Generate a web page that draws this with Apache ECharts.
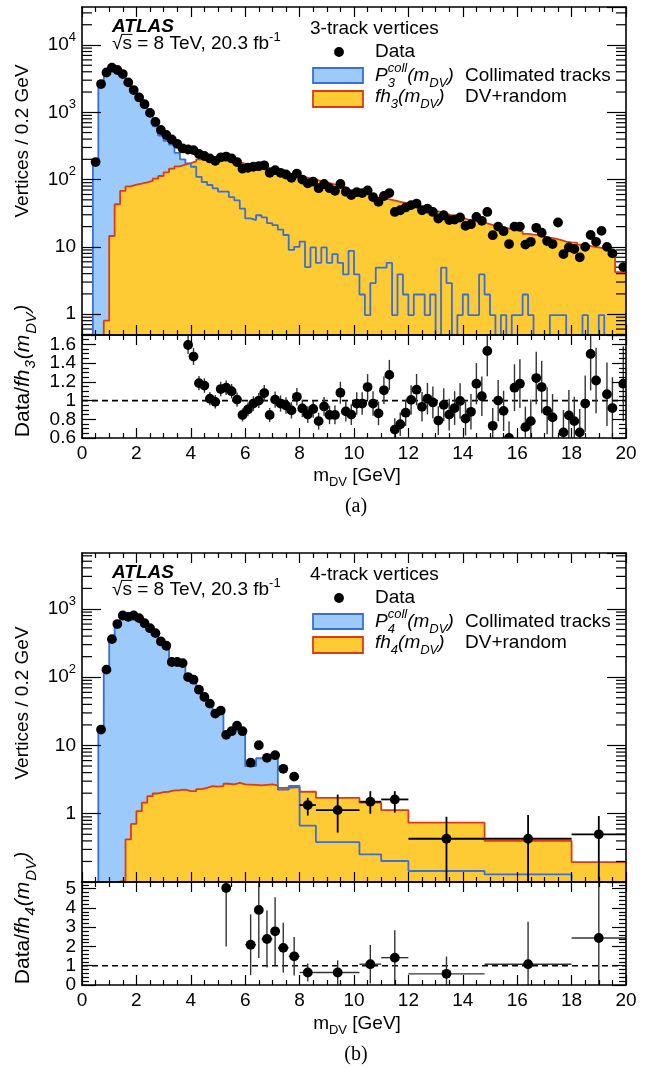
<!DOCTYPE html>
<html><head><meta charset="utf-8">
<script src="https://cdn.jsdelivr.net/npm/echarts@6/dist/echarts.min.js"></script>
<style>html,body{margin:0;padding:0;background:#fff}#c{width:652px;height:1068px}</style>
</head><body><div id="c"></div>
<script>
const FONT = '"Liberation Sans", Arial, Helvetica, sans-serif';
const SERIF = '"Liberation Serif", "Times New Roman", serif';
const BLUE_FILL = '#9ccafa', BLUE_LINE = '#3a6fd6', YELLOW = '#fecb35', RED_LINE = '#dc3c14';

// ---------- (a) 3-track vertices : 100 bins of 0.2 GeV ----------
const binWidth3 = 0.2;
const p3coll = [0,0,175,2800,3850,4450,4200,3650,2700,2050,
  1580,1230,890,620,450,375,330,250,200,174,
  155,110,92,83,74,66,66,55,49,37,
  26.5,25,29.5,27.5,22.5,21,18,15,9,10,
  12,5,9.8,5.8,9.8,5.8,7.8,5.8,3.9,8.7,
  3.9,1.96,0.97,2.9,4.9,4.9,5.8,0.97,3.9,1.96,
  0.97,1.96,1.96,0.97,1.96,0,4.9,2.9,0,0.97,
  1.96,0.97,0.97,3.9,1.96,0.97,0,0.97,0,0.97,
  0.97,1.96,0.97,0,0,0,0.97,0.97,0.97,0,
  0,0,0.97,0,0,0.97,0,0,0,0];
const fh3 = [0,0,0,0,0.8,14.5,43,68,79,84,
  87,91,96,103,113,128,145,157,167,176,
  186,200,194,202,194,191,194,187,181,172,
  166,160,157,152,148,137,131,125,119,115,
  109,104,100,95,91,87,82,79,75,70,
  67,64,61,58,54,52,50,48,46,44,
  41.5,39.5,37.5,36,34,33,31,29.5,28,27,
  25.5,24.5,23.5,23,21.8,20.6,20,19.2,18.3,17.6,
  16.8,15.6,15.2,15,14.2,13.7,13.3,12.7,12,11.7,
  11.6,10.8,10.4,10.1,9.8,9.5,9.3,8.8,4.2,4.1];
const data3 = [null,null,182,2630,3900,4600,4250,3700,2780,2140,
  1660,1320,980,720,545,460,395,340,290,280,
  274,240,224,206,190,214,220,206,182,145,
  150,155,158,163,126,138,126,119,106,123,
  100,88,93,74.5,86,74.5,68,86,66,59,
  65,63,69,55,46.6,57,63,33,35,38.5,
  41.7,44,35,37,33,26.4,29.5,25,25.5,27.3,
  20.5,21.7,27.9,24.4,33,14.9,20,17.1,11,20,
  20,10.8,11.9,19.2,16.2,12.2,11,23,7.8,9.8,
  9.3,7,10,15,11.9,17.3,10,8,null,5];
const ratio3X = [3.9,4.1,4.3,4.5,4.7,4.9,5.1,5.3,5.5,5.7,5.9,6.1,6.3,6.5,6.7,6.9,7.1,7.3,7.5,7.7,
  7.9,8.1,8.3,8.5,8.7,8.9,9.1,9.3,9.5,9.7,9.9,10.1,10.3,10.5,10.7,10.9,11.1,11.3,11.5,11.7,
  11.9,12.1,12.3,12.5,12.7,12.9,13.1,13.3,13.5,13.7,13.9,14.1,14.3,14.5,14.7,14.9,15.1,15.3,15.5,15.7,
  15.9,16.1,16.3,16.5,16.7,16.9,17.1,17.3,17.7,17.9,18.1,18.3,18.5,18.7,18.9,19.3,19.5,19.9];
const ratio3Y = [1.593,1.47,1.186,1.16,1.02,0.986,1.123,1.137,1.10,1.01,0.846,0.905,0.968,1.0,1.08,0.846,1.01,0.968,0.947,0.895,
  1.04,0.916,0.85,0.91,0.78,0.937,0.846,0.846,1.084,0.884,0.85,0.968,0.968,1.144,0.968,0.863,1.109,1.274,0.69,0.747,
  0.87,1.007,1.116,0.933,1.02,0.98,0.786,0.954,0.85,0.92,0.996,0.807,0.88,1.18,1.046,1.53,0.73,1.0,0.89,0.6,
  1.137,1.18,0.716,0.78,1.24,1.144,0.89,0.82,0.66,0.842,0.78,0.66,0.968,1.498,1.214,1.067,0.92,1.18];
const ratio3Err = [0.095,0.09,0.077,0.078,0.071,0.072,0.077,0.077,0.077,0.075,0.07,0.074,0.078,0.08,0.085,0.075,0.086,0.086,0.087,0.087,
  0.094,0.092,0.09,0.094,0.09,0.1,0.098,0.1,0.117,0.109,0.11,0.12,0.12,0.138,0.13,0.126,0.147,0.16,0.12,0.126,
  0.14,0.156,0.168,0.158,0.168,0.17,0.153,0.176,0.17,0.18,0.19,0.18,0.19,0.22,0.21,0.27,0.19,0.22,0.215,0.18,
  0.25,0.26,0.22,0.23,0.28,0.28,0.25,0.25,0.24,0.27,0.26,0.25,0.3,0.39,0.35,0.34,0.33,0.4];

// ---------- (b) 4-track vertices : variable bins ----------
const edges4 = [0,0.2,0.4,0.6,0.8,1.0,1.2,1.4,1.6,1.8,2.0,2.2,2.4,2.6,2.8,3.0,3.2,3.4,3.6,3.8,
  4.0,4.2,4.4,4.6,4.8,5.0,5.2,5.4,5.6,5.8,6.0,6.4,6.6,7.0,7.2,7.6,8.0,8.6,10.2,11.0,12.0,14.8,18.0,20.0];
const p4coll = [0,0,0,16,120,340,580,770,760,780,
  720,610,520,440,330,280,172,172,165,98,
  90,64,50,41,29,32,14.5,16,19,16.5,
  5.0,6.5,6.9,7.1,2.25,2.55,0.67,0.385,0.254,0.203,
  0.145,0.129,0];
const fh4 = [0,0,0,0,0,0,0,0.102,0.42,0.71,
  1.09,1.45,1.81,1.98,2.07,2.1,2.2,2.21,2.26,2.14,
  2.14,2.3,2.4,2.54,2.5,2.54,2.75,2.7,2.84,2.7,
  2.65,2.6,2.7,2.6,2.4,2.45,2.1,1.71,1.45,1.13,
  0.74,0.40,0.196];
const data4 = [null,null,null,17.1,129,361,600,802,767,802,
  733,619,523,442,334,289,167,167,161,100.6,
  92,65.7,51.4,41,29.3,32.4,14.3,16.2,19.5,16.2,
  5.6,10.1,6.6,7.2,4.55,3.5,1.34,1.13,1.50,1.62,
  0.43,0.43,0.50];
const data4ErrBins = [36,37,38,39,40,41,42];
const data4Lo = [0.94,0.53,1.0,1.04,0,0,0];
const data4Hi = [1.71,1.91,2.14,2.14,0.90,0.96,0.93];
const ratio4X = [5.3,6.2,6.5,6.8,7.1,7.4,7.8,8.3,9.4,10.6,11.5,13.4,16.4,19.0];
const ratio4Y = [5.04,2.09,3.9,2.39,2.79,1.93,1.49,0.65,0.65,1.08,1.42,0.58,1.08,2.44];
const ratio4Err = [3.04,1.58,2.5,1.48,1.77,1.3,1.0,0.47,0.63,1.0,1.43,0.9,2.2,2.9];

// ---------- helpers ----------
const TINY = 1e-4;
const edges3 = Array.from({length: p3coll.length + 1}, (_, i) => +(i * binWidth3).toFixed(1));
const centers = e => e.slice(0, -1).map((v, i) => (v + e[i + 1]) / 2);
const binOf = (e, x) => { for (let i = 0; i < e.length - 1; i++) if (x >= e[i] && x < e[i + 1]) return i; return e.length - 2; };

function histData(edges, vals) {
  const pts = [[edges[0], TINY]];
  vals.forEach((v, i) => pts.push([edges[i], v > 0 ? v : TINY]));
  const last = vals[vals.length - 1];
  pts.push([edges[edges.length - 1], last > 0 ? last : TINY]);
  return pts;
}
function areaSeries(xi, yi, data, color, z) {
  return {type: 'line', xAxisIndex: xi, yAxisIndex: yi, data, step: 'end', symbol: 'none',
    lineStyle: {width: 0, opacity: 0}, areaStyle: {color, opacity: 1, origin: 'start'}, z, silent: true, clip: true};
}
function outlineSeries(xi, yi, data, color, z) {
  return {type: 'line', xAxisIndex: xi, yAxisIndex: yi, data, step: 'end', symbol: 'none',
    lineStyle: {width: 1.8, color}, z, silent: true, clip: true};
}
function dotSeries(xi, yi, pts) {
  return {type: 'custom', xAxisIndex: xi, yAxisIndex: yi, data: pts, clip: true, z: 8, silent: true,
    renderItem: (p, api) => {
      const c = api.coord([api.value(0), api.value(1)]);
      return {type: 'circle', shape: {cx: c[0], cy: c[1], r: 4.9}, style: {fill: '#000'}};
    }};
}
// data rows: [x, ylo, yhi, xlo, xhi, y]
function errSeries(xi, yi, rows, color, w) {
  return {type: 'custom', xAxisIndex: xi, yAxisIndex: yi, data: rows, clip: true, z: 7, silent: true,
    renderItem: (p, api) => {
      const x = api.value(0), y = api.value(5);
      const a = api.coord([x, api.value(1)]), b = api.coord([x, api.value(2)]);
      const ch = [{type: 'line', shape: {x1: a[0], y1: a[1], x2: b[0], y2: b[1]}, style: {stroke: color, lineWidth: w}}];
      const l = api.coord([api.value(3), y]), r = api.coord([api.value(4), y]);
      ch.push({type: 'line', shape: {x1: l[0], y1: l[1], x2: r[0], y2: r[1]}, style: {stroke: color, lineWidth: w}});
      return {type: 'group', children: ch};
    }};
}
function minorLogTicks(xi, yi, lo, hi, len) {
  const vals = [];
  for (let e = -2; e <= 5; e++) for (let k = 2; k <= 9; k++) { const v = k * Math.pow(10, e); if (v > lo && v < hi) vals.push([10, v]); }
  return {type: 'custom', xAxisIndex: xi, yAxisIndex: yi, data: vals, clip: false, z: 11, silent: true,
    renderItem: (p, api) => {
      const v = api.value(1);
      const a = api.coord([0, v]), b = api.coord([20, v]);
      return {type: 'group', children: [
        {type: 'line', shape: {x1: a[0], y1: a[1], x2: a[0] + len, y2: a[1]}, style: {stroke: '#000', lineWidth: 1.2}},
        {type: 'line', shape: {x1: b[0] - len, y1: b[1], x2: b[0], y2: b[1]}, style: {stroke: '#000', lineWidth: 1.2}}]};
    }};
}
function refLine(xi, yi) {
  return {type: 'line', xAxisIndex: xi, yAxisIndex: yi, data: [[0, 1], [20, 1]], symbol: 'none', silent: true, z: 5,
    lineStyle: {color: '#000', width: 1.7, type: [6, 4]}};
}

const axisLine = {show: true, onZero: false, lineStyle: {color: '#000', width: 1.6}};
function xAx(gi, pos, labels) {
  return {type: 'value', gridIndex: gi, position: pos, min: 0, max: 20, interval: 2, z: 10,
    axisLine, splitLine: {show: false},
    axisTick: {show: true, inside: true, length: 10, lineStyle: {color: '#000', width: 1.2}},
    minorTick: {show: true, splitNumber: 4, length: 5, lineStyle: {color: '#000', width: 1.2}},
    axisLabel: {show: labels, fontSize: 19, fontFamily: FONT, color: '#000', margin: 6, showMinLabel: true, showMaxLabel: true}};
}
const logFmt = v => {
  const l = Math.log10(v), e = Math.round(l);
  if (Math.abs(l - e) > 1e-6 || e < 0) return '';
  if (e === 0) return '{b|1}';
  if (e === 1) return '{b|10}';
  return '{b|10}{s|' + e + '}';
};
function yLog(gi, pos, min, max, labels) {
  return {type: 'log', logBase: 10, gridIndex: gi, position: pos, min, max, z: 10,
    axisLine, splitLine: {show: false}, minorTick: {show: false},
    axisTick: {show: true, inside: true, length: 19, lineStyle: {color: '#000', width: 1.2}},
    axisLabel: {show: labels, formatter: logFmt, margin: 6, showMinLabel: false, showMaxLabel: false,
      rich: {b: {fontSize: 19, lineHeight: 29, fontFamily: FONT, color: '#000'},
             s: {fontSize: 13, lineHeight: 13, fontFamily: FONT, color: '#000', verticalAlign: 'top'}}}};
}
const linFmt = (interval, max) => v => (Math.abs(v - Math.round(v / interval) * interval) > 1e-6 || v > max - 1e-6) ? '' : String(+v.toFixed(1));
function yLin(gi, pos, min, max, interval, minorSplit, labels, showMin) {
  return {type: 'value', gridIndex: gi, position: pos, min, max, interval, z: 10,
    axisLine, splitLine: {show: false},
    axisTick: {show: true, inside: true, length: 14, lineStyle: {color: '#000', width: 1.2}},
    minorTick: {show: true, splitNumber: minorSplit, length: 7, lineStyle: {color: '#000', width: 1.2}},
    axisLabel: {show: labels, fontSize: 19, fontFamily: FONT, color: '#000', margin: 6,
      showMinLabel: showMin, formatter: linFmt(interval, max)}};
}
// label-only axis that prints just the lowest tick label of a ratio panel
function yMinLabel(gi, min, max, interval) {
  return {type: 'value', gridIndex: gi, position: 'left', min, max, interval, z: 10,
    axisLine: {show: false}, axisTick: {show: false}, splitLine: {show: false},
    axisLabel: {show: true, fontSize: 19, fontFamily: FONT, color: '#000', margin: 6, showMinLabel: true,
      formatter: v => Math.abs(v - min) < 1e-6 ? String(+v.toFixed(1)) : ''}};
}

// text layout helper (runs with sub/superscripts)
const ctx = document.createElement('canvas').getContext('2d');
function measure(t, s, it, b, fam) { ctx.font = (it ? 'italic ' : '') + (b ? 'bold ' : '') + s + 'px ' + fam; return ctx.measureText(t).width; }
function mtext(runs, o) {
  const fam = o.fam || FONT, size = o.size || 19;
  let cx = 0, prevStart = 0;
  const lay = [];
  runs.forEach(r => {
    const s = r.s || size;
    const start = (r.back ? prevStart : cx) + (r.pad || 0);
    const w = measure(r.t, s, r.it, r.b, fam);
    lay.push({r, s, start, w});
    prevStart = start;
    cx = Math.max(cx, start + w);
  });
  const off = o.center ? -cx / 2 : 0;
  const ch = [];
  lay.forEach(({r, s, start, w}) => {
    const font = (r.it ? 'italic ' : '') + (r.b ? 'bold ' : '') + s + 'px ' + fam;
    ch.push({type: 'text', x: off + start, y: (r.dy || 0) - 0.33 * s, z: 100,
      style: {text: r.t, font, fill: '#000', textAlign: 'left', textVerticalAlign: 'middle', align: 'left', verticalAlign: 'middle'}});
    if (r.over) ch.push({type: 'line', z: 100, shape: {x1: off + start - 1, y1: -0.82 * s, x2: off + start + w + 0.5, y2: -0.82 * s}, style: {stroke: '#000', lineWidth: 1}});
  });
  return {type: 'group', x: o.x, y: o.y, rotation: o.rot || 0, z: 100, children: ch};
}

// ---------- layout ----------
const grids = [
  {left: 82, top: 7, width: 544, height: 328},
  {left: 82, top: 335, width: 544, height: 103},
  {left: 82, top: 553, width: 544, height: 329},
  {left: 82, top: 882, width: 544, height: 103}
].map(g => Object.assign(g, {containLabel: false, outerBoundsMode: 'none', show: false}));

const xAxis = [xAx(0, 'bottom', false), xAx(0, 'top', false), xAx(1, 'bottom', true), xAx(1, 'top', false),
               xAx(2, 'bottom', false), xAx(2, 'top', false), xAx(3, 'bottom', true), xAx(3, 'top', false)];
const Y3MIN = 0.49, Y3MAX = 36700, Y4MIN = 0.1, Y4MAX = 6600;
const yAxis = [yLog(0, 'left', Y3MIN, Y3MAX, true), yLog(0, 'right', Y3MIN, Y3MAX, false),
               yLin(1, 'left', 0.6, 1.7, 0.2, 4, true, false), yLin(1, 'right', 0.6, 1.7, 0.2, 4, false, false),
               yLog(2, 'left', Y4MIN, Y4MAX, true), yLog(2, 'right', Y4MIN, Y4MAX, false),
               yLin(3, 'left', 0, 5.35, 1, 5, true, true), yLin(3, 'right', 0, 5.35, 1, 5, false, true),
               yMinLabel(1, 0.6, 1.7, 0.2)];

// ---------- series ----------
const c3 = centers(edges3), c4 = centers(edges4);
const h3b = histData(edges3, p3coll), h3y = histData(edges3, fh3);
const h4b = histData(edges4, p4coll), h4y = histData(edges4, fh4);
const pts3 = []; data3.forEach((v, i) => { if (v !== null && v > 0) pts3.push([c3[i], v]); });
const pts4 = []; data4.forEach((v, i) => { if (v !== null && v > 0) pts4.push([c4[i], v]); });
const err4 = data4ErrBins.map((b, k) => [c4[b], data4Lo[k] > 0 ? data4Lo[k] : TINY, data4Hi[k], edges4[b], edges4[b + 1], data4[b]]);
const r3pts = ratio3X.map((x, i) => [x, ratio3Y[i]]);
const r3err = ratio3X.map((x, i) => [x, ratio3Y[i] - ratio3Err[i], ratio3Y[i] + ratio3Err[i], x, x, ratio3Y[i]]);
const r4pts = ratio4X.map((x, i) => [x, ratio4Y[i]]);
const r4err = ratio4X.map((x, i) => { const b = binOf(edges4, x); return [x, ratio4Y[i] - ratio4Err[i], ratio4Y[i] + ratio4Err[i], edges4[b], edges4[b + 1], ratio4Y[i]]; });

const series = [
  areaSeries(0, 0, h3b, BLUE_FILL, 1),
  areaSeries(0, 0, h3y, YELLOW, 2),
  outlineSeries(0, 0, h3y, RED_LINE, 3),
  outlineSeries(0, 0, h3b, BLUE_LINE, 4),
  dotSeries(0, 0, pts3),
  minorLogTicks(0, 0, Y3MIN, Y3MAX, 10),
  refLine(2, 2),
  errSeries(2, 2, r3err, '#333', 1.4),
  dotSeries(2, 2, r3pts),
  areaSeries(4, 4, h4b, BLUE_FILL, 1),
  areaSeries(4, 4, h4y, YELLOW, 2),
  outlineSeries(4, 4, h4y, RED_LINE, 3),
  outlineSeries(4, 4, h4b, BLUE_LINE, 4),
  errSeries(4, 4, err4, '#000', 1.8),
  dotSeries(4, 4, pts4),
  minorLogTicks(4, 4, Y4MIN, Y4MAX, 10),
  refLine(6, 6),
  errSeries(6, 6, r4err, '#333', 1.4),
  dotSeries(6, 6, r4pts)
];

// ---------- texts ----------
function panelTexts(T, n) {
  const g = [];
  g.push(mtext([{t: 'ATLAS', b: true, it: true}], {x: 112, y: T + 26}));
  g.push(mtext([{t: '\u221A'}, {t: 's', over: true}, {t: ' = 8 TeV, 20.3 fb'}, {t: '-1', s: 13, dy: -8}], {x: 112, y: T + 43}));
  g.push(mtext([{t: n + '-track vertices'}], {x: 310, y: T + 28}));
  g.push({type: 'circle', z: 100, shape: {cx: 339, cy: T + 45, r: 4.9}, style: {fill: '#000'}});
  g.push(mtext([{t: 'Data'}], {x: 375, y: T + 51}));
  g.push({type: 'rect', z: 100, shape: {x: 313, y: T + 61, width: 50, height: 15}, style: {fill: BLUE_FILL, stroke: BLUE_LINE, lineWidth: 1.8}});
  g.push({type: 'rect', z: 100, shape: {x: 313, y: T + 84, width: 50, height: 16}, style: {fill: YELLOW, stroke: RED_LINE, lineWidth: 1.8}});
  g.push(mtext([{t: 'P', it: true}, {t: 'coll', s: 13, dy: -9, it: true}, {t: String(n), s: 13, dy: 6, it: true, back: true},
    {t: '(m', it: true}, {t: 'DV', s: 13, dy: 6, it: true}, {t: ')', it: true}], {x: 375, y: T + 75}));
  g.push(mtext([{t: 'Collimated tracks'}], {x: 465, y: T + 75}));
  g.push(mtext([{t: 'fh', it: true}, {t: String(n), s: 13, dy: 6, it: true}, {t: '(m', it: true}, {t: 'DV', s: 13, dy: 6, it: true}, {t: ')', it: true}], {x: 375, y: T + 96}));
  g.push(mtext([{t: 'DV+random'}], {x: 465, y: T + 96}));
  return g;
}
function ratioTitle(n, cy) {
  return mtext([{t: 'Data/'}, {t: 'fh', it: true}, {t: String(n), s: 15, dy: 6, it: true, pad: 1}, {t: '(m', it: true, pad: 1},
    {t: 'DV', s: 15, dy: 7, it: true, pad: 1}, {t: ')', it: true, pad: 1}], {x: 30, y: cy, rot: Math.PI / 2, center: true, size: 21});
}
const graphic = [].concat(
  panelTexts(7, 3), panelTexts(553, 4),
  [
    mtext([{t: 'Vertices / 0.2 GeV'}], {x: 29, y: 141, rot: Math.PI / 2, center: true}),
    mtext([{t: 'Vertices / 0.2 GeV'}], {x: 29, y: 703, rot: Math.PI / 2, center: true}),
    ratioTitle(3, 371),
    ratioTitle(4, 918),
    mtext([{t: 'm'}, {t: 'DV', s: 13, dy: 5}, {t: ' [GeV]'}], {x: 357, y: 482, center: true}),
    mtext([{t: 'm'}, {t: 'DV', s: 13, dy: 5}, {t: ' [GeV]'}], {x: 357, y: 1030, center: true}),
    mtext([{t: '(a)'}], {x: 356, y: 513, center: true, fam: SERIF, size: 20}),
    mtext([{t: '(b)'}], {x: 356, y: 1061, center: true, fam: SERIF, size: 20})
  ]);

const chart = echarts.init(document.getElementById('c'), null, {renderer: 'canvas'});
chart.setOption({
  animation: false,
  backgroundColor: '#fff',
  textStyle: {fontFamily: FONT},
  grid: grids, xAxis, yAxis, series, graphic
});
</script></body></html>
